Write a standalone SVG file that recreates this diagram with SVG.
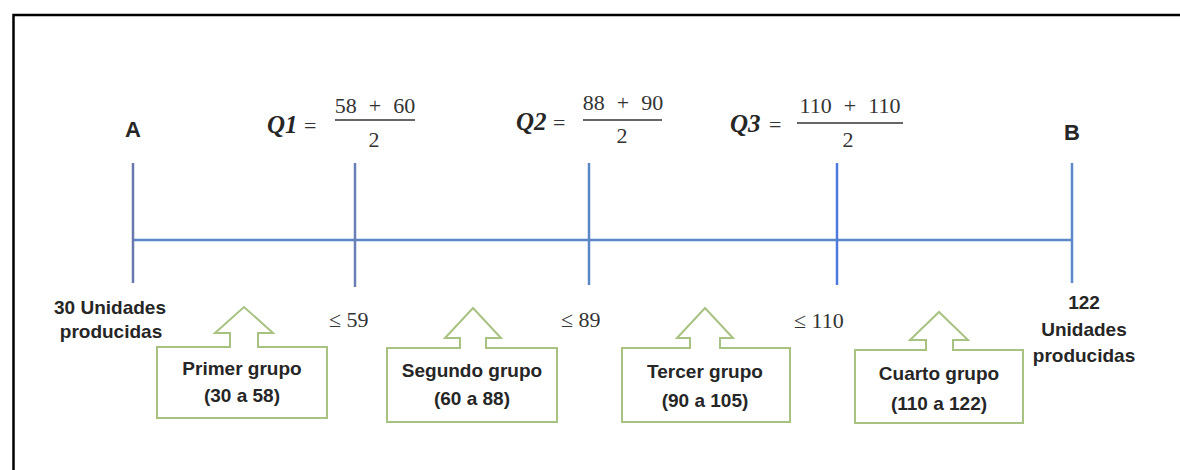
<svg xmlns="http://www.w3.org/2000/svg" width="1180" height="470" viewBox="0 0 1180 470">
<style>
.frame{stroke:#000;stroke-width:2.5;fill:none}
.axis{stroke:#5b87c9;stroke-width:2.5;fill:none}
.lbl{font-family:"Liberation Sans",Arial,sans-serif;font-weight:bold;fill:#262626;text-anchor:middle}
.big{font-size:22px}
.mid{font-size:19px}
.q{font-family:"Liberation Serif","DejaVu Serif",serif;font-weight:bold;font-style:italic;font-size:25px;fill:#262626}
.m{font-family:"Liberation Serif","DejaVu Serif",serif;font-size:22px;fill:#333}
.num{word-spacing:6.5px;text-anchor:middle}
.frac{stroke:#333;stroke-width:1.5}
.call{fill:#fff;stroke:#a8c281;stroke-width:2}
</style>
<rect width="1180" height="470" fill="#fff"/>
<path class="frame" d="M13.5,470 V15 H1180"/>
<g id="connectors">
<line class="axis" x1="134" y1="240" x2="1072" y2="240"/>
<line class="axis" x1="133" y1="163" x2="133" y2="283" style="stroke:#6a78ad"/>
<line class="axis" x1="355" y1="163" x2="355" y2="287" style="stroke:#6a7fb5"/>
<line class="axis" x1="589" y1="163" x2="589" y2="285"/>
<line class="axis" x1="837" y1="163" x2="837" y2="285" style="stroke:#4f78dc"/>
<line class="axis" x1="1072" y1="163" x2="1072" y2="283"/>
</g>
<g id="nodeA">
<text class="lbl big" x="133" y="137">A</text>
<text class="lbl mid" x="110" y="314">30 Unidades</text>
<text class="lbl mid" x="111" y="338">producidas</text>
</g>
<g id="nodeB">
<text class="lbl big" x="1072" y="140">B</text>
<text class="lbl mid" x="1084" y="309">122</text>
<text class="lbl mid" x="1084" y="336">Unidades</text>
<text class="lbl mid" x="1084" y="362">producidas</text>
</g>
<g id="nodeQ1">
<text class="q" x="267" y="133">Q1</text>
<text class="m" x="304" y="133">=</text>
<text class="m num" x="375" y="113">58 + 60</text>
<line class="frac" x1="335" y1="120" x2="415" y2="120"/>
<text class="m" x="374" y="147" text-anchor="middle">2</text>
<text class="m" x="329" y="327">≤ 59</text>
</g>
<g id="nodeQ2">
<text class="q" x="516" y="130">Q2</text>
<text class="m" x="553" y="130">=</text>
<text class="m num" x="623" y="110">88 + 90</text>
<line class="frac" x1="583" y1="120" x2="662" y2="120"/>
<text class="m" x="622" y="143" text-anchor="middle">2</text>
<text class="m" x="561" y="327">≤ 89</text>
</g>
<g id="nodeQ3">
<text class="q" x="730" y="132">Q3</text>
<text class="m" x="769" y="132">=</text>
<text class="m num" x="850" y="113">110 + 110</text>
<line class="frac" x1="797" y1="123" x2="903" y2="123"/>
<text class="m" x="848" y="147" text-anchor="middle">2</text>
<text class="m" x="794" y="328">≤ 110</text>
</g>
<g id="grupo1">
<path class="call" d="M157,347 H230 V333 H215 L244,307 L273,333 H258 V347 H327 V418 H157 Z"/>
<text class="lbl mid" x="242" y="375">Primer grupo</text>
<text class="lbl mid" x="242" y="402">(30 a 58)</text>
</g>
<g id="grupo2">
<path class="call" d="M387,348 H460 V338 H445 L473,308 L501,338 H486 V348 H557 V422 H387 Z"/>
<text class="lbl mid" x="472" y="377">Segundo grupo</text>
<text class="lbl mid" x="472" y="405">(60 a 88)</text>
</g>
<g id="grupo3">
<path class="call" d="M622,348 H690 V338 H677 L705,308 L733,338 H720 V348 H790 V422 H622 Z"/>
<text class="lbl mid" x="705" y="378">Tercer grupo</text>
<text class="lbl mid" x="705" y="407">(90 a 105)</text>
</g>
<g id="grupo4">
<path class="call" d="M855,350 H926 V340 H910 L939,312 L968,340 H953 V350 H1023 V423 H855 Z"/>
<text class="lbl mid" x="939" y="380">Cuarto grupo</text>
<text class="lbl mid" x="939" y="410">(110 a 122)</text>
</g>
</svg>
